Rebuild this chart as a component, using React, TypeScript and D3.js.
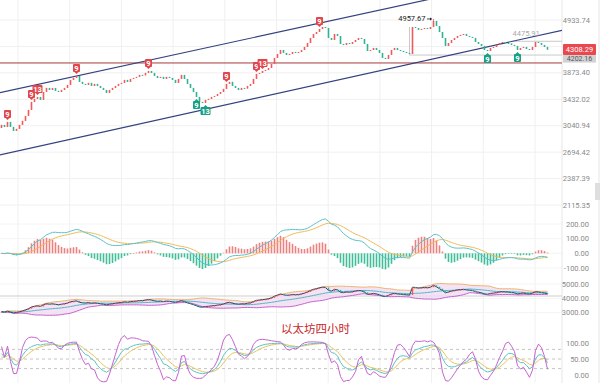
import React from "react";
import * as d3 from "d3";

// ---- data (ETH 4h candles, closes) ----
const closes = [
  3052, 3024, 3094, 3024, 2970, 2997, 3052, 3109, 3180, 3269,
  3391, 3438, 3469, 3422, 3549, 3615, 3582, 3615, 3566, 3549,
  3582, 3615, 3665, 3750, 3784, 3819, 3716, 3682, 3665, 3699,
  3648, 3682, 3648, 3615, 3582, 3533, 3582, 3615, 3648, 3682,
  3699, 3750, 3716, 3767, 3784, 3802, 3837, 3830, 3872, 3907,
  3872, 3819, 3784, 3802, 3767, 3802, 3784, 3750, 3699, 3767,
  3837, 3767, 3682, 3615, 3549, 3469, 3391, 3375, 3422, 3438,
  3469, 3485, 3517, 3549, 3599, 3682, 3716, 3648, 3615, 3582,
  3615, 3605, 3648, 3682, 3767, 3854, 3872, 3907, 3925, 3961,
  4034, 4147, 4223, 4301, 4243, 4204, 4223, 4262, 4243, 4262,
  4301, 4361, 4441, 4544, 4628, 4670, 4735, 4778, 4756, 4544,
  4502, 4628, 4586, 4421, 4401, 4441, 4421, 4461, 4502, 4544,
  4523, 4421, 4282, 4301, 4341, 4301, 4243, 4147, 4128, 4204,
  4301, 4341, 4301, 4282, 4262, 4243, 4223, 4778, 4756, 4713,
  4735, 4756, 4735, 4778, 4911, 4800, 4670, 4544, 4381, 4441,
  4502, 4544, 4586, 4607, 4628, 4586, 4565, 4544, 4461, 4421,
  4381, 4301, 4282, 4341, 4361, 4401, 4441, 4461, 4441, 4430,
  4401, 4381, 4301, 4341, 4361, 4321, 4301, 4361, 4461, 4441,
  4401, 4361, 4308.29,
];
const firstOpen = 3010;

const priceTicks = [4933.74, 4371.5, 3873.4, 3432.02, 3040.94, 2694.42, 2387.39, 2115.35];
const hiddenTick = 4371.5;
const macdTicks = [200, 100, 0, -100];
const bollTicks = [5000, 4000, 3000];
const kdjTicks = [100, 50, 0];
const kdjLevels = [80, 50, 20];

const levelPrice = 4052.9;
const upperChannel = [[0, 3543], [140, 5382]];
const lowerChannel = [[0, 2664], [180, 4610]];

const highIndex = 144;
const highValue = 4957.67;
const lowLineIndex = 136;
const lowLineValue = 4202.16;
const highLineIndex = 170;
const highLineValue = 4475.91;
const lastPrice = 4308.29;

const tdIdx = [2, 10, 12, 25, 49, 65, 68, 75, 85, 87, 106, 162, 172];
const tdText = ["9", "9", "13", "9", "9", "9", "13", "9", "9", "13", "9", "9", "9"];
const tdSide = ["up", "up", "up", "up", "up", "down", "down", "up", "up", "up", "up", "down", "down"];

const title = "以太坊四小时";

// ---- styles ----
const UP = "#ef5a5e";
const DOWN = "#2fb393";
const FONT = "Roboto, 'Liberation Sans', Arial, sans-serif";
const PR = 562;

function ema(a: number[], n: number) {
  const k = 2 / (n + 1);
  const out: number[] = [];
  a.forEach((v, i) => out.push(i === 0 ? v : v * k + out[i - 1] * (1 - k)));
  return out;
}

export default function App() {
  const n = closes.length;
  const opens = closes.map((c, i) => (i === 0 ? firstOpen : closes[i - 1]));
  const highs = closes.map((c, i) => Math.max(c, opens[i]));
  const lows = closes.map((c, i) => Math.min(c, opens[i]));
  highs[highIndex] = highValue;

  const x = d3.scaleLinear().domain([0, n - 1]).range([1.5, 547.5]);
  const yP = d3.scaleLog().domain([2115.35, 4933.74]).range([205, 20]);
  const yM = d3.scaleLinear().domain([-100, 200]).range([268, 224]);
  const yB = d3.scaleLinear().domain([3000, 5000]).range([312.5, 284]);
  const yK = d3.scaleLinear().domain([0, 100]).range([375, 343]);

  // MACD
  const ef = ema(closes, 12), es = ema(closes, 26);
  const dif = closes.map((_, i) => ef[i] - es[i]);
  const dea = ema(dif, 9);
  const hist = dif.map((d, i) => 2 * (d - dea[i]));

  // BOLL
  const bp = 20;
  const mid: number[] = [], up: number[] = [], lo: number[] = [];
  closes.forEach((_, i) => {
    const w = closes.slice(Math.max(0, i - bp + 1), i + 1);
    const m = d3.mean(w) as number;
    const sd = Math.sqrt(d3.mean(w.map((v) => (v - m) * (v - m))) as number);
    mid.push(m); up.push(m + 2 * sd); lo.push(m - 2 * sd);
  });

  // KDJ
  const kp = 10;
  const K: number[] = [], D: number[] = [], J: number[] = [];
  closes.forEach((c, i) => {
    const s = Math.max(0, i - kp + 1);
    const hh = d3.max(highs.slice(s, i + 1)) as number;
    const ll = d3.min(lows.slice(s, i + 1)) as number;
    const rsv = hh === ll ? 50 : ((c - ll) / (hh - ll)) * 100;
    const k = (i === 0 ? 50 : K[i - 1]) * (2 / 3) + rsv / 3;
    const d = (i === 0 ? 50 : D[i - 1]) * (2 / 3) + k / 3;
    K.push(k); D.push(d); J.push(3 * k - 2 * d);
  });

  const line = (arr: number[], ys: any) =>
    d3.line<number>().x((_, i) => x(i)).y((v) => ys(v))(arr) as string;
  const bandArea = d3.area<number>().x((_, i) => x(i)).y0((_, i) => yB(lo[i])).y1((_, i) => yB(up[i]))(closes) as string;

  const chan = (pts: number[][]) => {
    const x1 = x(pts[0][0]), y1 = yP(pts[0][1]);
    const x2 = x(pts[1][0]), y2 = yP(pts[1][1]);
    const f = (xx: number) => y1 + ((y2 - y1) * (xx - x1)) / (x2 - x1);
    return { x1: 0, y1: f(0), x2: PR, y2: f(PR) };
  };
  const uc = chan(upperChannel), lc = chan(lowerChannel);

  const vGrid = d3.range(18, PR, 51.7);
  const cw = 1.6;

  return (
    <div style={{ position: "absolute", left: 0, top: 0 }}>
      <svg width={600} height={383} style={{ display: "block", background: "#fff" }} fontFamily={FONT}>
        <defs>
          <clipPath id="mainClip"><rect x={0} y={0} width={PR} height={213} /></clipPath>
          <clipPath id="macdClip"><rect x={0} y={213} width={PR} height={70} /></clipPath>
          <clipPath id="kdjClip"><rect x={0} y={333} width={PR} height={50} /></clipPath>
        </defs>
        {/* grids */}
        {vGrid.map((gx, i) => (
          <line key={"vg" + i} x1={gx} x2={gx} y1={0} y2={383} stroke="#f0f0f0" strokeWidth={1} />
        ))}
        {priceTicks.map((t, i) => (
          <line key={"pg" + i} x1={0} x2={PR} y1={yP(t)} y2={yP(t)} stroke="#f0f0f0" />
        ))}
        {macdTicks.map((t, i) => (
          <line key={"mg" + i} x1={0} x2={PR} y1={yM(t)} y2={yM(t)} stroke="#f4f4f4" />
        ))}
        {bollTicks.map((t, i) => (
          <line key={"bg" + i} x1={0} x2={PR} y1={yB(t)} y2={yB(t)} stroke="#f4f4f4" />
        ))}
        {kdjLevels.map((t, i) => (
          <line key={"kg" + i} x1={0} x2={PR} y1={yK(t)} y2={yK(t)} stroke="#c4c4c4" strokeDasharray="3,3" />
        ))}
        <line x1={PR} x2={PR} y1={0} y2={383} stroke="#e6e6e6" />
        <line x1={599} x2={599} y1={0} y2={383} stroke="#e6e6e6" />
        <line x1={0} x2={PR} y1={296} y2={296} stroke="#cfcfcf" />

        {/* main pane */}
        <g clipPath="url(#mainClip)">
          <line x1={0} x2={PR} y1={yP(levelPrice)} y2={yP(levelPrice)} stroke="#a63a3a" strokeWidth={1} />
          <line x1={x(lowLineIndex)} x2={PR} y1={yP(lowLineValue)} y2={yP(lowLineValue)} stroke="#c9c9c9" />
          <line x1={x(lowLineIndex)} x2={x(lowLineIndex)} y1={yP(lowLineValue)} y2={yP(closes[lowLineIndex + 1])} stroke="#c9c9c9" />
          <line x1={x(highLineIndex)} x2={PR} y1={yP(highLineValue)} y2={yP(highLineValue)} stroke="#c9c9c9" />
          <line {...uc} stroke="#34427e" strokeWidth={1.2} />
          <line {...lc} stroke="#34427e" strokeWidth={1.2} />
          {closes.map((c, i) => {
            const o = opens[i];
            const col = c >= o ? UP : DOWN;
            const top = yP(Math.max(o, c)), bot = yP(Math.min(o, c));
            return (
              <g key={"c" + i}>
                <line x1={x(i)} x2={x(i)} y1={yP(highs[i])} y2={yP(lows[i])} stroke={col} strokeWidth={0.8} />
                <rect x={x(i) - cw / 2} y={top} width={cw} height={Math.max(1, bot - top)} fill={col} />
              </g>
            );
          })}
          {tdIdx.map((ti, k) => {
            const isUp = tdSide[k] === "up";
            const w = tdText[k].length > 1 ? 10 : 7;
            const cy = isUp ? yP(highs[ti]) - 8 : yP(lows[ti]) + 8;
            const bx = x(ti) - w / 2;
            const fill = isUp ? "#e2454c" : "#17a085";
            const tri = isUp
              ? `M${x(ti) - 2},${cy + 4} L${x(ti) + 2},${cy + 4} L${x(ti)},${cy + 6} Z`
              : `M${x(ti) - 2},${cy - 4} L${x(ti) + 2},${cy - 4} L${x(ti)},${cy - 6} Z`;
            return (
              <g key={"td" + k}>
                <rect x={bx} y={cy - 4} width={w} height={8} rx={1} fill={fill} />
                <path d={tri} fill={fill} />
                <text x={x(ti)} y={cy + 2.8} textAnchor="middle" fontSize={7.5} fill="#fff" fontWeight="bold">{tdText[k]}</text>
              </g>
            );
          })}
          <text x={x(highIndex) - 8} y={yP(highValue) + 2.5} textAnchor="end" fontSize={7.5} fill="#222">{highValue.toFixed(2)}</text>
          <line x1={x(highIndex) - 6.5} x2={x(highIndex) - 2} y1={yP(highValue)} y2={yP(highValue)} stroke="#222" strokeWidth={0.8} />
          <path d={`M${x(highIndex) - 1.5},${yP(highValue)} l-2,-1.5 l0,3 Z`} fill="#222" />
          <text x={x(highLineIndex) + 1} y={yP(highLineValue) - 5} fontSize={7.5} fill="#aaa">{highLineValue.toFixed(2)}</text>
        </g>

        {/* MACD pane */}
        <g clipPath="url(#macdClip)">
          {hist.map((h, i) => (
            <rect key={"h" + i} x={x(i) - 0.8} y={Math.min(yM(0), yM(h))} width={1.6}
              height={Math.max(0.6, Math.abs(yM(h) - yM(0)))} fill={h >= 0 ? "#ee8080" : "#3fbe98"} />
          ))}
          <path d={line(dea, yM)} fill="none" stroke="#efbc5a" strokeWidth={1} />
          <path d={line(dif, yM)} fill="none" stroke="#5cc2cc" strokeWidth={1} />
        </g>

        {/* BOLL pane */}
        <g>
          <path d={bandArea} fill="#f1dcf3" opacity={0.8} />
          <path d={line(up, yB)} fill="none" stroke="#f0b36e" strokeWidth={1} />
          <path d={line(lo, yB)} fill="none" stroke="#c561cf" strokeWidth={1} />
          <path d={line(mid, yB)} fill="none" stroke="#55b6c6" strokeWidth={1} />
          <path d={line(closes, yB)} fill="none" stroke="#33406e" strokeWidth={1} />
          {closes.map((c, i) => {
            const o = opens[i];
            const top = yB(Math.max(o, c)), bot = yB(Math.min(o, c));
            return <rect key={"bc" + i} x={x(i) - 0.7} y={top} width={1.4} height={Math.max(1, bot - top)} fill={c >= o ? UP : DOWN} />;
          })}
        </g>

        {/* KDJ pane */}
        <g clipPath="url(#kdjClip)">
          <path d={line(D, yK)} fill="none" stroke="#e9c45c" strokeWidth={1} />
          <path d={line(K, yK)} fill="none" stroke="#5cc2c2" strokeWidth={1} />
          <path d={line(J, yK)} fill="none" stroke="#c862d2" strokeWidth={1} />
        </g>

        <text x={281} y={333} fontSize={11.5} fill="#c62828" fontFamily="'Noto Sans CJK SC', sans-serif">{title}</text>

        {/* right axis labels */}
        {priceTicks.filter((t) => t !== hiddenTick).map((t, i) => (
          <text key={"pt" + i} x={590} y={yP(t) + 2.5} textAnchor="end" fontSize={7.5} fill="#8a8a8a">{t.toFixed(2)}</text>
        ))}
        {macdTicks.map((t, i) => (
          <text key={"mt" + i} x={589} y={yM(t) + 2.5} textAnchor="end" fontSize={7.5} fill="#8a8a8a">{t.toFixed(2)}</text>
        ))}
        {bollTicks.map((t, i) => (
          <text key={"bt" + i} x={589} y={yB(t) + 2.5} textAnchor="end" fontSize={7.5} fill="#8a8a8a">{t.toFixed(2)}</text>
        ))}
        {kdjTicks.map((t, i) => (
          <text key={"kt" + i} x={589} y={yK(t) + 2.5} textAnchor="end" fontSize={7.5} fill="#8a8a8a">{t.toFixed(2)}</text>
        ))}
        <rect x={563} y={yP(lowLineValue) - 1.5} width={33} height={9} fill="#d2d2d2" />
        <text x={579.5} y={yP(lowLineValue) + 5.5} textAnchor="middle" fontSize={7} fill="#555">{lowLineValue.toFixed(2)}</text>
        <rect x={563} y={yP(lastPrice) - 5.5} width={33} height={11} rx={1} fill="#e8484e" />
        <text x={579.5} y={yP(lastPrice) + 2.7} textAnchor="middle" fontSize={7.5} fill="#fff">{lastPrice.toFixed(2)}</text>
        <rect x={595} y={183} width={5} height={17} fill="#dedede" />
      </svg>
    </div>
  );
}
